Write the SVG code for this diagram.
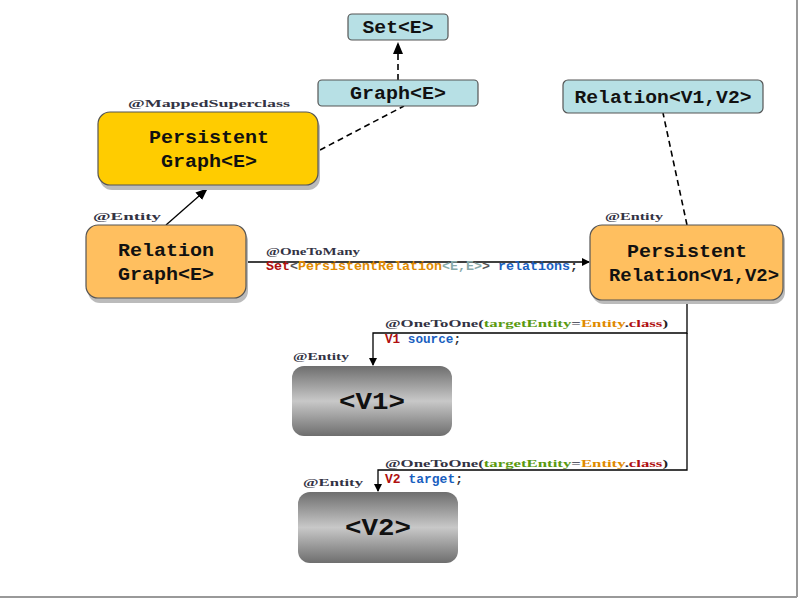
<svg xmlns="http://www.w3.org/2000/svg" width="800" height="600" viewBox="0 0 800 600">
<style>
.box{stroke:#555;stroke-width:1.2}
.blue{fill:#b7e0e5}
.yel{fill:#ffcc00}
.org{fill:#ffbf5f}
.gray{fill:url(#gg)}
.t{font-family:"Liberation Mono","Courier New",monospace;font-weight:bold;fill:#111;text-anchor:middle}
.big{font-size:19px}
.med{font-size:18px}
.ann{font-family:"Liberation Serif",serif;font-size:11px;fill:#334;font-weight:bold}
.code{font-family:"Liberation Mono",monospace;font-size:13px;font-weight:bold}
.sh{fill:#bbb}
.ln{stroke:#000;stroke-width:1.3;fill:none}
.dash{stroke:#000;stroke-width:1.6;fill:none;stroke-dasharray:6,4}
</style>
<defs>
<linearGradient id="gg" x1="0" y1="0" x2="0" y2="1">
<stop offset="0" stop-color="#6e6e6e"/>
<stop offset="0.5" stop-color="#c8c8c8"/>
<stop offset="1" stop-color="#6e6e6e"/>
</linearGradient>
<marker id="ar" markerWidth="8" markerHeight="8" refX="7" refY="4" orient="auto" markerUnits="userSpaceOnUse">
<path d="M0,0 L8,4 L0,8 z" fill="#000"/>
</marker>
<marker id="ar2" markerWidth="12" markerHeight="10" refX="11" refY="5" orient="auto" markerUnits="userSpaceOnUse">
<path d="M0,0 L12,5 L0,10 z" fill="#000"/>
</marker>
</defs>
<rect width="800" height="600" fill="#fff"/>
<line x1="797" y1="0" x2="797" y2="597" stroke="#999" stroke-width="2"/>
<line x1="0" y1="597" x2="797" y2="597" stroke="#999" stroke-width="2"/>

<g id="connectors">
<line class="dash" x1="398" y1="80" x2="398" y2="43" marker-end="url(#ar2)"/>
<line class="dash" x1="320" y1="150" x2="404" y2="106"/>
<line class="dash" x1="687" y1="225" x2="663" y2="113"/>
<line class="ln" x1="166" y1="225" x2="207" y2="189" stroke-width="2" marker-end="url(#ar2)"/>
<line class="ln" x1="246" y1="262" x2="589" y2="262" marker-end="url(#ar)"/>
<polyline class="ln" points="687,300 687,333 373,333 373,365" marker-end="url(#ar)"/>
<polyline class="ln" points="687,333 687,470 378,470 378,491" marker-end="url(#ar)"/>
</g>

<g id="set">
<rect class="box blue" x="348" y="14" width="100" height="26" rx="4"/>
<text class="t med" x="398" y="33" textLength="71" lengthAdjust="spacingAndGlyphs">Set&lt;E&gt;</text>
</g>
<g id="graph">
<rect class="box blue" x="318" y="80" width="160" height="26" rx="4"/>
<text class="t med" x="398" y="99" textLength="96" lengthAdjust="spacingAndGlyphs">Graph&lt;E&gt;</text>
</g>
<g id="relation">
<rect class="box blue" x="563" y="80" width="200" height="33" rx="5"/>
<text class="t med" x="663" y="103" textLength="177" lengthAdjust="spacingAndGlyphs">Relation&lt;V1,V2&gt;</text>
</g>
<g id="persistentGraph">
<text class="ann" x="128" y="107" textLength="162" lengthAdjust="spacingAndGlyphs">@MappedSuperclass</text>
<rect class="sh" x="100" y="116" width="220" height="74" rx="12"/>
<rect class="box yel" x="98" y="112" width="220" height="73" rx="12"/>
<text class="t big" x="209" y="143" textLength="120" lengthAdjust="spacingAndGlyphs">Persistent</text>
<text class="t big" x="209" y="167" textLength="96" lengthAdjust="spacingAndGlyphs">Graph&lt;E&gt;</text>
</g>
<g id="relationGraph">
<text class="ann" x="93" y="220" textLength="68" lengthAdjust="spacingAndGlyphs">@Entity</text>
<rect class="sh" x="88" y="229" width="160" height="74" rx="12"/>
<rect class="box org" x="86" y="225" width="160" height="73" rx="12"/>
<text class="t big" x="166" y="256" textLength="96" lengthAdjust="spacingAndGlyphs">Relation</text>
<text class="t big" x="166" y="280" textLength="96" lengthAdjust="spacingAndGlyphs">Graph&lt;E&gt;</text>
</g>
<g id="persistentRelation">
<text class="ann" x="605" y="220" textLength="58" lengthAdjust="spacingAndGlyphs">@Entity</text>
<rect class="sh" x="592" y="229" width="193" height="75" rx="12"/>
<rect class="box org" x="590" y="225" width="193" height="75" rx="12"/>
<text class="t big" x="687" y="257" textLength="120" lengthAdjust="spacingAndGlyphs">Persistent</text>
<text class="t big" x="694" y="281" textLength="170" lengthAdjust="spacingAndGlyphs">Relation&lt;V1,V2&gt;</text>
</g>
<g id="v1">
<text class="ann" x="293" y="360" textLength="56" lengthAdjust="spacingAndGlyphs">@Entity</text>
<rect class="gray" x="292" y="366" width="160" height="70" rx="12"/>
<text class="t" x="372" y="409" font-size="24" textLength="66" lengthAdjust="spacingAndGlyphs">&lt;V1&gt;</text>
</g>
<g id="v2">
<text class="ann" x="303" y="486" textLength="60" lengthAdjust="spacingAndGlyphs">@Entity</text>
<rect class="gray" x="298" y="492" width="160" height="71" rx="12"/>
<text class="t" x="378" y="535" font-size="24" textLength="66" lengthAdjust="spacingAndGlyphs">&lt;V2&gt;</text>
</g>

<g id="labels">
<text class="ann" x="266" y="255" textLength="94" lengthAdjust="spacingAndGlyphs">@OneToMany</text>
<text class="code" x="266" y="270" textLength="312" lengthAdjust="spacingAndGlyphs"><tspan fill="#b01010">Set</tspan><tspan fill="#555">&lt;</tspan><tspan fill="#e08a00">PersistentRelation</tspan><tspan fill="#8aa">&lt;E,E&gt;</tspan><tspan fill="#555">&gt;</tspan> <tspan fill="#1a5fbf">relations</tspan><tspan fill="#333">;</tspan></text>
<text class="ann" x="385" y="327" textLength="283" lengthAdjust="spacingAndGlyphs">@OneToOne(<tspan fill="#5a9a10">targetEntity</tspan>=<tspan fill="#e08a00">Entity</tspan>.<tspan fill="#b01010">class</tspan><tspan fill="#222">)</tspan></text>
<text class="code" x="385" y="343" textLength="76" lengthAdjust="spacingAndGlyphs"><tspan fill="#b01010">V1</tspan> <tspan fill="#1a5fbf">source</tspan><tspan fill="#333">;</tspan></text>
<text class="ann" x="385" y="467" textLength="283" lengthAdjust="spacingAndGlyphs">@OneToOne(<tspan fill="#5a9a10">targetEntity</tspan>=<tspan fill="#e08a00">Entity</tspan>.<tspan fill="#b01010">class</tspan><tspan fill="#222">)</tspan></text>
<text class="code" x="385" y="483" textLength="78" lengthAdjust="spacingAndGlyphs"><tspan fill="#b01010">V2</tspan> <tspan fill="#1a5fbf">target</tspan><tspan fill="#333">;</tspan></text>
</g>
</svg>
